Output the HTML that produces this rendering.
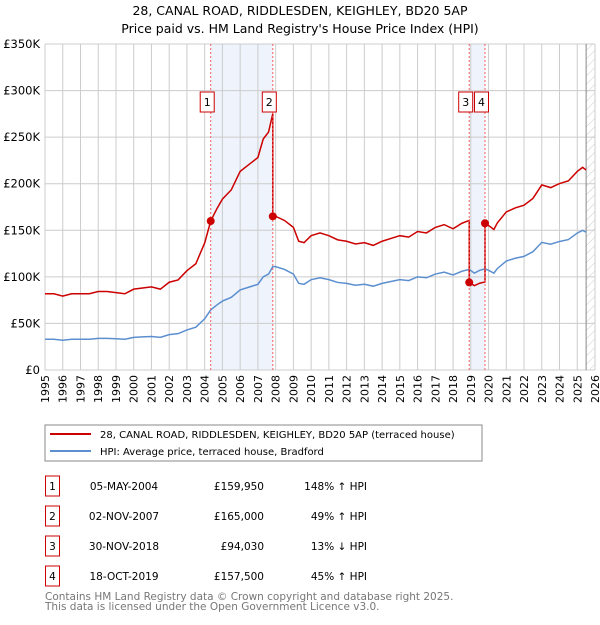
<!DOCTYPE html>
<html><head><meta charset="utf-8"><style>
body{margin:0;background:#fff;font-family:"Liberation Sans","DejaVu Sans",sans-serif;}
svg text{font-family:"DejaVu Sans","Liberation Sans",sans-serif;}
</style></head><body>
<svg id="c" width="600" height="620" xmlns="http://www.w3.org/2000/svg">
<defs><pattern id="h" width="6" height="6" patternUnits="userSpaceOnUse" patternTransform="rotate(45)"><line x1="0" y1="0" x2="0" y2="6" stroke="#ccc" stroke-width="1"/></pattern></defs>
<text x="300" y="15" text-anchor="middle" font-size="12.5">28, CANAL ROAD, RIDDLESDEN, KEIGHLEY, BD20 5AP</text>
<text x="300" y="33" text-anchor="middle" font-size="12.5">Price paid vs. HM Land Registry's House Price Index (HPI)</text>
<g id="grid"></g><g id="marks"></g>
<rect x="45" y="425" width="437" height="36" fill="#fff" stroke="#888"/>
<line x1="50" y1="434" x2="91" y2="434" stroke="#cc0000" stroke-width="2"/>
<text x="100" y="438" font-size="10">28, CANAL ROAD, RIDDLESDEN, KEIGHLEY, BD20 5AP (terraced house)</text>
<line x1="50" y1="451" x2="91" y2="451" stroke="#5b8fd0" stroke-width="2"/>
<text x="100" y="455" font-size="10">HPI: Average price, terraced house, Bradford</text>
<g id="table"></g>
<text x="45" y="600" font-size="10.5" fill="#777">Contains HM Land Registry data © Crown copyright and database right 2025.</text>
<text x="45" y="610" font-size="10.5" fill="#777">This data is licensed under the Open Government Licence v3.0.</text>
</svg>
<script>
const hpiT=[1995,1995.5,1996,1996.5,1997,1997.5,1998,1998.5,1999,1999.5,2000,2000.5,2001,2001.5,2002,2002.5,2003,2003.5,2004,2004.34,2004.7,2005,2005.5,2006,2006.5,2007,2007.3,2007.6,2007.84,2008,2008.5,2009,2009.3,2009.6,2010,2010.5,2011,2011.5,2012,2012.5,2013,2013.5,2014,2014.5,2015,2015.5,2016,2016.5,2017,2017.5,2018,2018.5,2018.91,2019.2,2019.5,2019.8,2020,2020.3,2020.5,2021,2021.5,2022,2022.5,2023,2023.5,2024,2024.5,2025,2025.3,2025.5];
const hpiV=[33,33,32,33,33,33,34,34,33.5,33,35,35.5,36,35,38,39,43,46,55,64.5,70,74,78,86,89,92,100,103,111,111,108,103,93,92,97,99,97,94,93,91,92,90,93,95,97,96,100,99,103,105,102,106,108,104,107,108.6,107,104,109,117,120,122,127,137,135,138,140,147,150,148];
const saleT=[2004.34,2007.84,2018.91,2019.8];
const saleV=[159950,165000,94030,157500];
const saleLabels=["1","2","3","4"];
const saleDates=["05-MAY-2004","02-NOV-2007","30-NOV-2018","18-OCT-2019"];
const salePrices=["£159,950","£165,000","£94,030","£157,500"];
const saleHpi=["148% ↑ HPI","49% ↑ HPI","13% ↓ HPI","45% ↑ HPI"];
const yTicks=[0,50000,100000,150000,200000,250000,300000,350000];
const yTickLabels=["£0","£50K","£100K","£150K","£200K","£250K","£300K","£350K"];
const years=[1995,1996,1997,1998,1999,2000,2001,2002,2003,2004,2005,2006,2007,2008,2009,2010,2011,2012,2013,2014,2015,2016,2017,2018,2019,2020,2021,2022,2023,2024,2025,2026];
const NS="http://www.w3.org/2000/svg";
const X=t=>45+(t-1995)*(550/31), Y=v=>370-v/350000*326;
function mk(tag,at,parent,txt){const e=document.createElementNS(NS,tag);for(const k in at)e.setAttribute(k,at[k]);if(txt!=null)e.textContent=txt;parent.appendChild(e);return e;}
const G=document.getElementById('grid'),M=document.getElementById('marks'),T=document.getElementById('table');
let e=mk('rect',{x:X(saleT[0]),y:44,width:X(saleT[1])-X(saleT[0]),height:326,fill:'#eef3fc'},G);

e=mk('rect',{x:X(saleT[2]),y:44,width:X(saleT[3])-X(saleT[2]),height:326,fill:'#eef3fc'},G);

e=mk('rect',{x:X(2025.5),y:44,width:X(2026)-X(2025.5),height:326,fill:'url(#h)'},G);

years.forEach(y=>{e=mk('line',{x1:X(y),x2:X(y),y1:44,y2:370,stroke:'#ccc'},G);

e=mk('text',{x:0,y:0,'font-size':11,'text-anchor':'end',transform:`translate(${X(y)+4},375) rotate(-90)`},G,String(y));
});
yTicks.forEach((v,i)=>{e=mk('line',{x1:45,x2:595,y1:Y(v),y2:Y(v),stroke:'#ccc'},G);

e=mk('text',{x:40,y:Y(v)+4,'font-size':11.5,'text-anchor':'end'},G,yTickLabels[i]);
});
e=mk('line',{x1:X(2025.5),x2:X(2025.5),y1:44,y2:370,stroke:'#888'},G);

function hpiAt(t){for(let i=1;i<hpiT.length;i++)if(t<=hpiT[i]){const f=(t-hpiT[i-1])/(hpiT[i]-hpiT[i-1]);return hpiV[i-1]+f*(hpiV[i]-hpiV[i-1]);}return hpiV[hpiV.length-1];}
e=mk('polyline',{points:hpiT.map((t,i)=>X(t)+','+Y(hpiV[i]*1000)).join(' '),fill:'none',stroke:'#5b8fd0','stroke-width':1.5},M);

function ratio(k){return saleV[k]/(hpiAt(saleT[k])*1000);}
function seg(t){let k=0;for(let j=0;j<saleT.length;j++)if(t>=saleT[j])k=j;return k;}
let seq=[];
hpiT.forEach((t,i)=>{const j=saleT.indexOf(t);
 if(j>0)seq.push([t,hpiV[i]*1000*ratio(j-1)]);
 seq.push([t,hpiV[i]*1000*ratio(seg(t))]);});
e=mk('polyline',{points:seq.map(p=>X(p[0])+','+Y(p[1])).join(' '),fill:'none',stroke:'#cc0000','stroke-width':1.5},M);

saleT.forEach((t,i)=>{e=mk('line',{x1:X(t),x2:X(t),y1:44,y2:370,stroke:'#f06060','stroke-dasharray':'2,2'},M);

e=mk('circle',{cx:X(t),cy:Y(saleV[i]),r:4,fill:'#cc0000'},M);

const bx=X(t)-10.5;
e=mk('rect',{x:bx,y:92,width:14,height:20,fill:'#fff',stroke:'#cc0000'},M);

e=mk('text',{x:bx+7,y:106,'font-size':11,'text-anchor':'middle'},M,saleLabels[i]);

const ry=476+i*30;
e=mk('rect',{x:45.5,y:ry,width:14,height:20,fill:'#fff',stroke:'#cc0000'},T);

e=mk('text',{x:52.5,y:ry+14,'font-size':10.5,'text-anchor':'middle'},T,saleLabels[i]);

e=mk('text',{x:124,y:ry+14,'font-size':10.5,'text-anchor':'middle'},T,saleDates[i]);

e=mk('text',{x:264,y:ry+14,'font-size':10.5,'text-anchor':'end'},T,salePrices[i]);

e=mk('text',{x:367,y:ry+14,'font-size':10.5,'text-anchor':'end'},T,saleHpi[i]);
});
</script>
</body></html>
